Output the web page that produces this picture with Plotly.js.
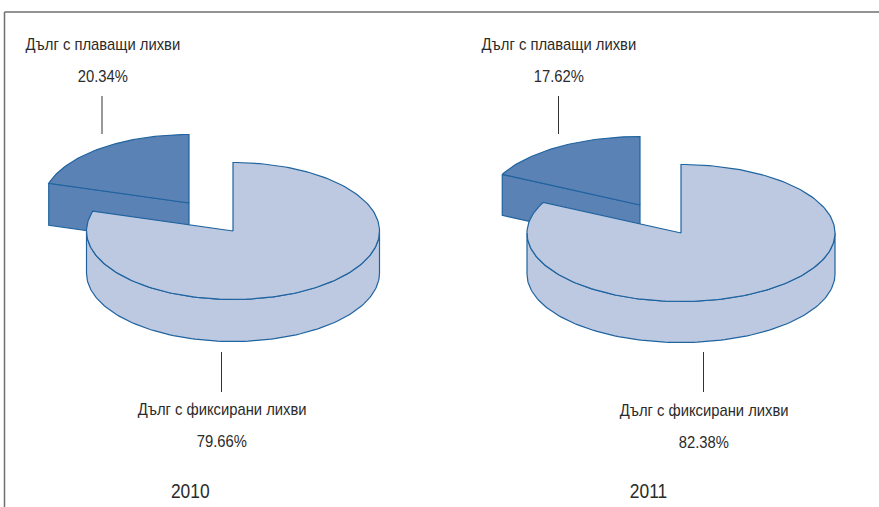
<!DOCTYPE html>
<html><head><meta charset="utf-8">
<script src="https://cdn.plot.ly/plotly-3.0.1.min.js"></script>
<style>html,body{margin:0;padding:0;background:#fff}#c{width:879px;height:507px}</style>
</head><body><div id="c"></div>
<script>
// Data
const years = ['2010', '2011'];
const floatingLabel = 'Дълг с плаващи лихви';
const fixedLabel = 'Дълг с фиксирани лихви';
const floatingShares = [20.34, 17.62];
const fixedShares = [79.66, 82.38];

// Layout of the two drawn pies (page-unit axes)
const geom = [
  {cx:233, cy:231, sx:189, sy:203, rx:146.5, ry:68.5, d:42,
   topX:102.5, topY:[44,76], lead:[96,134], topLeadX:102,
   botX:222, botY:[409,441], botLead:[352,392], botLeadX:221.5, yearX:190, yearY:491},
  {cx:681, cy:233, sx:640, sy:205, rx:154, ry:68.5, d:41,
   topX:559, topY:[44,76], lead:[96,134], topLeadX:558.5,
   botX:704, botY:[410,442], botLead:[352,392], botLeadX:703.5, yearX:648, yearY:491}
];
const DARK='#5a82b5', LIGHT='#bcc9e1', EDGE='#1f639f', INK='#2b2b2b', FRAME='#6f6f6f';
const FONT='"Liberation Sans",Arial,sans-serif';
const NARROW=0.87;

// Angle in degrees clockwise from 12 o'clock -> ellipse point
function pt(g,cx,cy,deg,dz){
  const a=deg*Math.PI/180;
  return [cx+g.rx*Math.sin(a), cy-g.ry*Math.cos(a)+(dz||0)];
}
function arc(g,cx,cy,a0,a1,dz){
  const n=Math.max(2,Math.ceil(Math.abs(a1-a0)/1.5)), out=[];
  for(let i=0;i<=n;i++) out.push(pt(g,cx,cy,a0+(a1-a0)*i/n,dz));
  return out;
}
function poly(points,fill){
  const xs=points.map(p=>p[0]), ys=points.map(p=>p[1]);
  xs.push(xs[0]); ys.push(ys[0]);
  return {type:'scatter',mode:'lines',x:xs,y:ys,fill:'toself',fillcolor:fill,
    line:{color:EDGE,width:1.2},hoverinfo:'skip',showlegend:false};
}

const traces=[], annotations=[], shapes=[];
function text(x,y,t,size){
  annotations.push({x,y,xref:'x',yref:'y',text:t,showarrow:false,xanchor:'center',yanchor:'middle',
    font:{family:FONT,size,color:INK}});
}
function leader(x,y0,y1){
  shapes.push({type:'line',xref:'x',yref:'y',x0:x,x1:x,y0,y1,line:{color:'#333',width:1}});
}

years.forEach((yr,i)=>{
  const g=geom[i];
  const split=fixedShares[i]/(fixedShares[i]+floatingShares[i])*360;
  // floating-rate slice: side wall then top
  const p=pt(g,g.sx,g.sy,split);
  traces.push(poly([p,[g.sx,g.sy],[g.sx,g.sy+g.d],[p[0],p[1]+g.d]],DARK));
  traces.push(poly([[g.sx,g.sy],...arc(g,g.sx,g.sy,split,360)],DARK));
  // fixed-rate slice: outer wall then top
  traces.push(poly([...arc(g,g.cx,g.cy,90,270,0),...arc(g,g.cx,g.cy,270,90,g.d)],LIGHT));
  traces.push(poly([[g.cx,g.cy],...arc(g,g.cx,g.cy,0,split)],LIGHT));
  // labels
  text(g.topX,g.topY[0],floatingLabel,17);
  text(g.topX,g.topY[1],floatingShares[i].toFixed(2)+'%',17);
  text(g.botX,g.botY[0],fixedLabel,17);
  text(g.botX,g.botY[1],fixedShares[i].toFixed(2)+'%',17);
  text(g.yearX,g.yearY,yr,20);
  leader(g.topLeadX,g.lead[0],g.lead[1]);
  leader(g.botLeadX,g.botLead[0],g.botLead[1]);
});
// frame: top and left rules
shapes.push({type:'line',xref:'x',yref:'y',x0:4.5,x1:879,y0:12,y1:12,line:{color:FRAME,width:1.5}});
shapes.push({type:'line',xref:'x',yref:'y',x0:4.5,x1:4.5,y0:12,y1:507,line:{color:FRAME,width:1.5}});

Plotly.newPlot('c',traces,{
  width:879,height:507,margin:{l:0,r:0,t:0,b:0,pad:0},
  paper_bgcolor:'#fff',plot_bgcolor:'#fff',showlegend:false,hovermode:false,
  xaxis:{range:[0,879],visible:false,fixedrange:true},
  yaxis:{range:[507,0],visible:false,fixedrange:true},
  annotations,shapes
},{displayModeBar:false,staticPlot:true}).then(gd=>{
  // The reference uses a condensed face: squeeze the real text to the same width.
  gd.querySelectorAll('.annotation-text').forEach(t=>{
    const w=t.getComputedTextLength();
    t.setAttribute('textLength',(w*NARROW).toFixed(1));
    t.setAttribute('lengthAdjust','spacingAndGlyphs');
  });
});
</script></body></html>
